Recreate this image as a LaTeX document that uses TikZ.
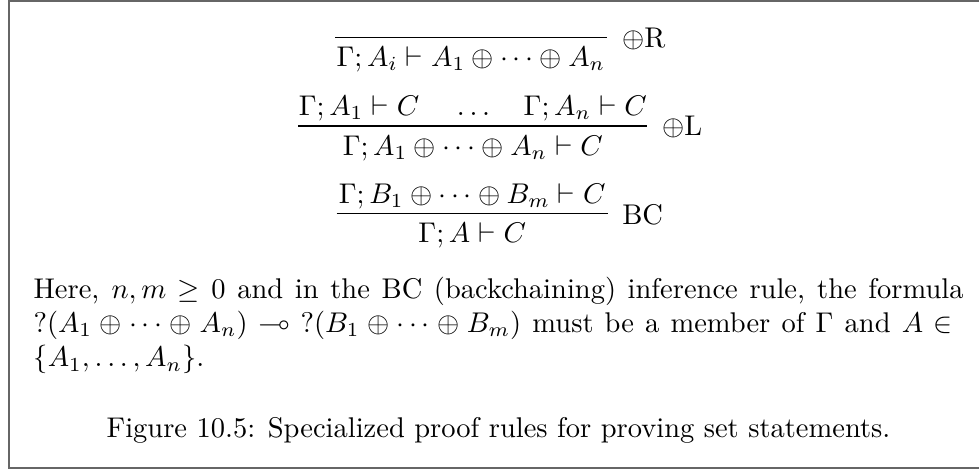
\documentclass[tikz,border=0pt]{standalone}
\usepackage{amssymb}
\tikzset{
  judg/.style={anchor=base, inner sep=0pt},
  rulelabel/.style={anchor=base west, inner sep=0pt},
  ruleline/.style={line width=0.4pt, draw=black},
  frameline/.style={line width=0.7pt, draw=black!60}
}
\begin{document}
\begin{tikzpicture}[x=0.35088pt,y=-0.35088pt]
\useasboundingbox (0,0) rectangle (979,469);
\draw[frameline] (1000,0.9) -- (8.7,0.9) -- (8.7,467.7) -- (1000,467.7);
% rule 1 (oplus R)
\coordinate (r1a) at (335,37.3);
\coordinate (r1b) at (606.7,37.3);
\draw[ruleline] (r1a) -- (r1b);
\node[judg] (c1) at (470.85,66.7) {$\Gamma; A_i \vdash A_1 \oplus \cdots \oplus A_n$};
\node[rulelabel] (l1) at (621.7,47.7) {$\oplus$R};
% rule 2 (oplus L)
\coordinate (r2a) at (298.3,126);
\coordinate (r2b) at (647.3,126);
\draw[ruleline] (r2a) -- (r2b);
\node[judg, anchor=base west] (p2a) at (298.3,115) {$\Gamma; A_1 \vdash C$};
\node[judg] (p2b) at (473.5,115) {$\ldots$};
\node[judg, anchor=base east] (p2c) at (647.3,115) {$\Gamma; A_n \vdash C$};
\node[judg] (c2) at (472.8,155) {$\Gamma; A_1 \oplus \cdots \oplus A_n \vdash C$};
\node[rulelabel] (l2) at (661.7,135) {$\oplus$L};
% rule 3 (BC)
\coordinate (r3a) at (336.7,213.3);
\coordinate (r3b) at (607.7,213.3);
\draw[ruleline] (r3a) -- (r3b);
\node[judg] (p3) at (472.2,203.3) {$\Gamma; B_1 \oplus \cdots \oplus B_m \vdash C$};
\node[judg] (c3) at (472.2,242.5) {$\Gamma; A \vdash C$};
\node[rulelabel] (l3) at (621.7,224.3) {BC};
% explanation text
\node[anchor=base west, inner sep=0pt] (txt) at (33,298.5)
 {\vtop{\hsize=326.3pt\parindent=0pt\noindent
 Here, $n, m \geq 0$ and in the BC (backchaining) inference rule, the formula\linebreak
 $?(A_1 \oplus \cdots \oplus A_n) \multimap {?}(B_1 \oplus \cdots \oplus B_m)$ must be a member of $\Gamma$ and $A \in{}$\linebreak
 $\{A_1, \ldots, A_n\}$.\par}};
\node[anchor=base, inner sep=0pt] (cap) at (498.5,437.3) {Figure 10.5: Specialized proof rules for proving set statements.};
\end{tikzpicture}
\end{document}
